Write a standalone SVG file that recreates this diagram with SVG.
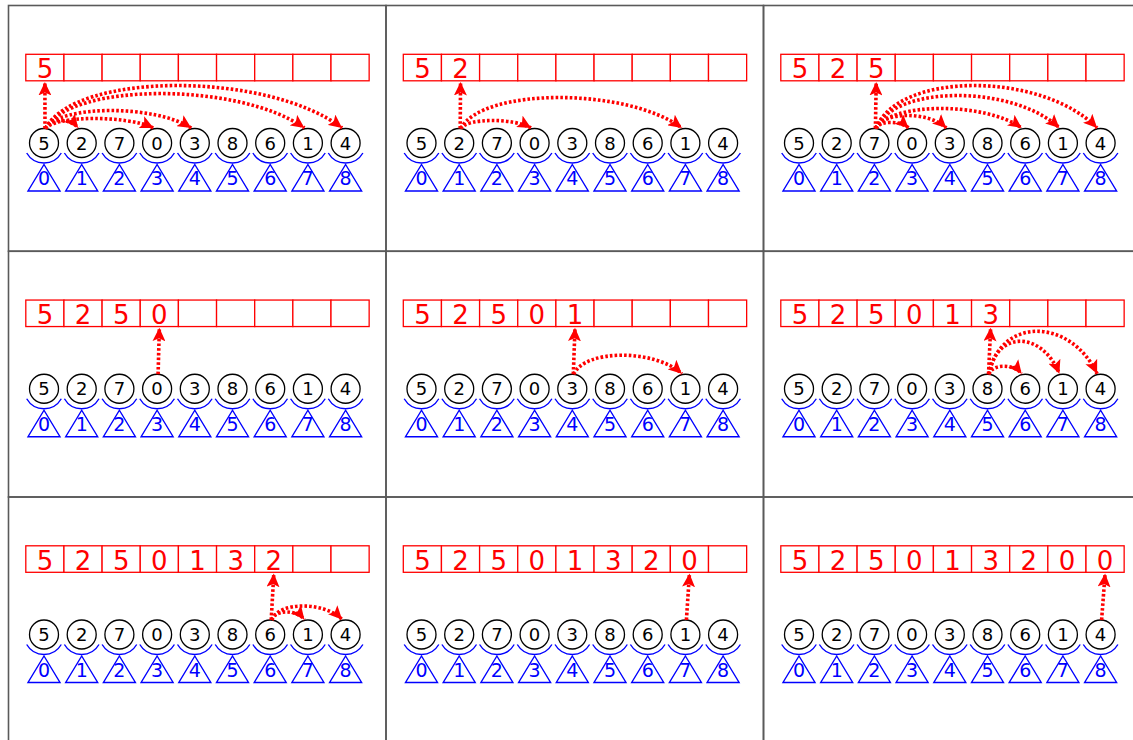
<svg xmlns="http://www.w3.org/2000/svg" xmlns:xlink="http://www.w3.org/1999/xlink" width="1133" height="740" viewBox="0 0 1133 740">
<style>
.frame{fill:none;stroke:#5a5a5a;stroke-width:1.6}
.cell{fill:#fff;stroke:#f00;stroke-width:1.3}
.c{fill:#fff;stroke:#000;stroke-width:1.3}
.b{fill:none;stroke:#00f;stroke-width:1.4}
text{font-family:"DejaVu Sans","Liberation Sans",sans-serif;text-anchor:middle}
.v{font-size:18px;fill:#000}
.i{font-size:19px;fill:#00f}
.o{font-size:26px;fill:#f00}
.e{fill:none;stroke:#f00;stroke-width:3.6;stroke-dasharray:2.6 2.1;marker-end:url(#ah)}
</style>
<defs>
<marker id="ah" markerUnits="userSpaceOnUse" markerWidth="14" markerHeight="13" viewBox="0 0 14 13" refX="13.5" refY="6.5" orient="auto"><path d="M0,0 L13.5,6.5 L0,13 L3,6.5 Z" fill="#f00"/></marker>
<g id="el"><circle class="c" r="14.5"/><path class="b" d="M-17.3,10 A20,20 0 0 0 17.3,10"/><path class="b" d="M0,21.5 L16,48 L-16,48 Z"/></g>
<g id="cells"><rect class="cell" x="17.3" y="48.8" width="38.15" height="26.5"/><rect class="cell" x="55.45" y="48.8" width="38.15" height="26.5"/><rect class="cell" x="93.6" y="48.8" width="38.15" height="26.5"/><rect class="cell" x="131.75" y="48.8" width="38.15" height="26.5"/><rect class="cell" x="169.9" y="48.8" width="38.15" height="26.5"/><rect class="cell" x="208.05" y="48.8" width="38.15" height="26.5"/><rect class="cell" x="246.2" y="48.8" width="38.15" height="26.5"/><rect class="cell" x="284.35" y="48.8" width="38.15" height="26.5"/><rect class="cell" x="322.5" y="48.8" width="38.15" height="26.5"/></g>
</defs>
<rect width="1133" height="740" fill="#fff"/>

<g id="p1" transform="translate(8.5,5.5)">
<rect class="frame" width="377.5" height="245.75"/>
<g id="p1-out"><use href="#cells"/><text class="o" x="36.4" y="72.5">5</text></g>
<g id="p1-n0"><use href="#el" x="35.5" y="137.5"/><text class="v" x="35.5" y="144">5</text><text class="i" x="35.5" y="179.5">0</text></g>
<g id="p1-n1"><use href="#el" x="73.2" y="137.5"/><text class="v" x="73.2" y="144">2</text><text class="i" x="73.2" y="179.5">1</text></g>
<g id="p1-n2"><use href="#el" x="110.9" y="137.5"/><text class="v" x="110.9" y="144">7</text><text class="i" x="110.9" y="179.5">2</text></g>
<g id="p1-n3"><use href="#el" x="148.6" y="137.5"/><text class="v" x="148.6" y="144">0</text><text class="i" x="148.6" y="179.5">3</text></g>
<g id="p1-n4"><use href="#el" x="186.3" y="137.5"/><text class="v" x="186.3" y="144">3</text><text class="i" x="186.3" y="179.5">4</text></g>
<g id="p1-n5"><use href="#el" x="224" y="137.5"/><text class="v" x="224" y="144">8</text><text class="i" x="224" y="179.5">5</text></g>
<g id="p1-n6"><use href="#el" x="261.7" y="137.5"/><text class="v" x="261.7" y="144">6</text><text class="i" x="261.7" y="179.5">6</text></g>
<g id="p1-n7"><use href="#el" x="299.4" y="137.5"/><text class="v" x="299.4" y="144">1</text><text class="i" x="299.4" y="179.5">7</text></g>
<g id="p1-n8"><use href="#el" x="337.1" y="137.5"/><text class="v" x="337.1" y="144">4</text><text class="i" x="337.1" y="179.5">8</text></g>
<g id="p1-edges">
<path class="e" d="M36.5,123 L36.4,76.5"/>
<path class="e" d="M37,123 C40.3,112.4 61.5,112.4 69.7,122.5"/>
<path class="e" d="M37,123 C47.8,109.7 118.1,109.7 145.1,122.5"/>
<path class="e" d="M37,123 C51.6,99.1 146.4,99.1 182.8,122.5"/>
<path class="e" d="M37,123 C62.9,76.5 231.2,76.5 295.9,122.5"/>
<path class="e" d="M37,123 C66.7,65.8 259.5,65.8 333.6,122.5"/>
</g>
</g>

<g id="p2" transform="translate(386,5.5)">
<rect class="frame" width="377.5" height="245.75"/>
<g id="p2-out"><use href="#cells"/><text class="o" x="36.4" y="72.5">5</text><text class="o" x="74.55" y="72.5">2</text></g>
<g id="p2-n0"><use href="#el" x="35.5" y="137.5"/><text class="v" x="35.5" y="144">5</text><text class="i" x="35.5" y="179.5">0</text></g>
<g id="p2-n1"><use href="#el" x="73.2" y="137.5"/><text class="v" x="73.2" y="144">2</text><text class="i" x="73.2" y="179.5">1</text></g>
<g id="p2-n2"><use href="#el" x="110.9" y="137.5"/><text class="v" x="110.9" y="144">7</text><text class="i" x="110.9" y="179.5">2</text></g>
<g id="p2-n3"><use href="#el" x="148.6" y="137.5"/><text class="v" x="148.6" y="144">0</text><text class="i" x="148.6" y="179.5">3</text></g>
<g id="p2-n4"><use href="#el" x="186.3" y="137.5"/><text class="v" x="186.3" y="144">3</text><text class="i" x="186.3" y="179.5">4</text></g>
<g id="p2-n5"><use href="#el" x="224" y="137.5"/><text class="v" x="224" y="144">8</text><text class="i" x="224" y="179.5">5</text></g>
<g id="p2-n6"><use href="#el" x="261.7" y="137.5"/><text class="v" x="261.7" y="144">6</text><text class="i" x="261.7" y="179.5">6</text></g>
<g id="p2-n7"><use href="#el" x="299.4" y="137.5"/><text class="v" x="299.4" y="144">1</text><text class="i" x="299.4" y="179.5">7</text></g>
<g id="p2-n8"><use href="#el" x="337.1" y="137.5"/><text class="v" x="337.1" y="144">4</text><text class="i" x="337.1" y="179.5">8</text></g>
<g id="p2-edges">
<path class="e" d="M74.2,123 L74.55,76.5"/>
<path class="e" d="M74.7,123 C81.7,112.4 127.5,112.4 145.1,122.5"/>
<path class="e" d="M74.7,123 C96.8,81.8 240.6,81.8 295.9,122.5"/>
</g>
</g>

<g id="p3" transform="translate(763.5,5.5)">
<rect class="frame" width="377.5" height="245.75"/>
<g id="p3-out"><use href="#cells"/><text class="o" x="36.4" y="72.5">5</text><text class="o" x="74.55" y="72.5">2</text><text class="o" x="112.7" y="72.5">5</text></g>
<g id="p3-n0"><use href="#el" x="35.5" y="137.5"/><text class="v" x="35.5" y="144">5</text><text class="i" x="35.5" y="179.5">0</text></g>
<g id="p3-n1"><use href="#el" x="73.2" y="137.5"/><text class="v" x="73.2" y="144">2</text><text class="i" x="73.2" y="179.5">1</text></g>
<g id="p3-n2"><use href="#el" x="110.9" y="137.5"/><text class="v" x="110.9" y="144">7</text><text class="i" x="110.9" y="179.5">2</text></g>
<g id="p3-n3"><use href="#el" x="148.6" y="137.5"/><text class="v" x="148.6" y="144">0</text><text class="i" x="148.6" y="179.5">3</text></g>
<g id="p3-n4"><use href="#el" x="186.3" y="137.5"/><text class="v" x="186.3" y="144">3</text><text class="i" x="186.3" y="179.5">4</text></g>
<g id="p3-n5"><use href="#el" x="224" y="137.5"/><text class="v" x="224" y="144">8</text><text class="i" x="224" y="179.5">5</text></g>
<g id="p3-n6"><use href="#el" x="261.7" y="137.5"/><text class="v" x="261.7" y="144">6</text><text class="i" x="261.7" y="179.5">6</text></g>
<g id="p3-n7"><use href="#el" x="299.4" y="137.5"/><text class="v" x="299.4" y="144">1</text><text class="i" x="299.4" y="179.5">7</text></g>
<g id="p3-n8"><use href="#el" x="337.1" y="137.5"/><text class="v" x="337.1" y="144">4</text><text class="i" x="337.1" y="179.5">8</text></g>
<g id="p3-edges">
<path class="e" d="M111.9,123 L112.7,76.5"/>
<path class="e" d="M112.4,123 C115.7,115 136.9,115 145.1,122.5"/>
<path class="e" d="M112.4,123 C119.4,105.7 165.2,105.7 182.8,122.5"/>
<path class="e" d="M112.4,123 C127,96.4 221.8,96.4 258.2,122.5"/>
<path class="e" d="M112.4,123 C130.8,79.1 250,79.1 295.9,122.5"/>
<path class="e" d="M112.4,123 C134.5,65.8 278.3,65.8 333.6,122.5"/>
</g>
</g>

<g id="p4" transform="translate(8.5,251.25)">
<rect class="frame" width="377.5" height="245.75"/>
<g id="p4-out"><use href="#cells"/><text class="o" x="36.4" y="72.5">5</text><text class="o" x="74.55" y="72.5">2</text><text class="o" x="112.7" y="72.5">5</text><text class="o" x="150.85" y="72.5">0</text></g>
<g id="p4-n0"><use href="#el" x="35.5" y="137.5"/><text class="v" x="35.5" y="144">5</text><text class="i" x="35.5" y="179.5">0</text></g>
<g id="p4-n1"><use href="#el" x="73.2" y="137.5"/><text class="v" x="73.2" y="144">2</text><text class="i" x="73.2" y="179.5">1</text></g>
<g id="p4-n2"><use href="#el" x="110.9" y="137.5"/><text class="v" x="110.9" y="144">7</text><text class="i" x="110.9" y="179.5">2</text></g>
<g id="p4-n3"><use href="#el" x="148.6" y="137.5"/><text class="v" x="148.6" y="144">0</text><text class="i" x="148.6" y="179.5">3</text></g>
<g id="p4-n4"><use href="#el" x="186.3" y="137.5"/><text class="v" x="186.3" y="144">3</text><text class="i" x="186.3" y="179.5">4</text></g>
<g id="p4-n5"><use href="#el" x="224" y="137.5"/><text class="v" x="224" y="144">8</text><text class="i" x="224" y="179.5">5</text></g>
<g id="p4-n6"><use href="#el" x="261.7" y="137.5"/><text class="v" x="261.7" y="144">6</text><text class="i" x="261.7" y="179.5">6</text></g>
<g id="p4-n7"><use href="#el" x="299.4" y="137.5"/><text class="v" x="299.4" y="144">1</text><text class="i" x="299.4" y="179.5">7</text></g>
<g id="p4-n8"><use href="#el" x="337.1" y="137.5"/><text class="v" x="337.1" y="144">4</text><text class="i" x="337.1" y="179.5">8</text></g>
<g id="p4-edges">
<path class="e" d="M149.6,123 L150.85,76.5"/>
</g>
</g>

<g id="p5" transform="translate(386,251.25)">
<rect class="frame" width="377.5" height="245.75"/>
<g id="p5-out"><use href="#cells"/><text class="o" x="36.4" y="72.5">5</text><text class="o" x="74.55" y="72.5">2</text><text class="o" x="112.7" y="72.5">5</text><text class="o" x="150.85" y="72.5">0</text><text class="o" x="189" y="72.5">1</text></g>
<g id="p5-n0"><use href="#el" x="35.5" y="137.5"/><text class="v" x="35.5" y="144">5</text><text class="i" x="35.5" y="179.5">0</text></g>
<g id="p5-n1"><use href="#el" x="73.2" y="137.5"/><text class="v" x="73.2" y="144">2</text><text class="i" x="73.2" y="179.5">1</text></g>
<g id="p5-n2"><use href="#el" x="110.9" y="137.5"/><text class="v" x="110.9" y="144">7</text><text class="i" x="110.9" y="179.5">2</text></g>
<g id="p5-n3"><use href="#el" x="148.6" y="137.5"/><text class="v" x="148.6" y="144">0</text><text class="i" x="148.6" y="179.5">3</text></g>
<g id="p5-n4"><use href="#el" x="186.3" y="137.5"/><text class="v" x="186.3" y="144">3</text><text class="i" x="186.3" y="179.5">4</text></g>
<g id="p5-n5"><use href="#el" x="224" y="137.5"/><text class="v" x="224" y="144">8</text><text class="i" x="224" y="179.5">5</text></g>
<g id="p5-n6"><use href="#el" x="261.7" y="137.5"/><text class="v" x="261.7" y="144">6</text><text class="i" x="261.7" y="179.5">6</text></g>
<g id="p5-n7"><use href="#el" x="299.4" y="137.5"/><text class="v" x="299.4" y="144">1</text><text class="i" x="299.4" y="179.5">7</text></g>
<g id="p5-n8"><use href="#el" x="337.1" y="137.5"/><text class="v" x="337.1" y="144">4</text><text class="i" x="337.1" y="179.5">8</text></g>
<g id="p5-edges">
<path class="e" d="M187.3,123 L189,76.5"/>
<path class="e" d="M187.8,123 C198.6,97.7 268.9,97.7 295.9,122.5"/>
</g>
</g>

<g id="p6" transform="translate(763.5,251.25)">
<rect class="frame" width="377.5" height="245.75"/>
<g id="p6-out"><use href="#cells"/><text class="o" x="36.4" y="72.5">5</text><text class="o" x="74.55" y="72.5">2</text><text class="o" x="112.7" y="72.5">5</text><text class="o" x="150.85" y="72.5">0</text><text class="o" x="189" y="72.5">1</text><text class="o" x="227.15" y="72.5">3</text></g>
<g id="p6-n0"><use href="#el" x="35.5" y="137.5"/><text class="v" x="35.5" y="144">5</text><text class="i" x="35.5" y="179.5">0</text></g>
<g id="p6-n1"><use href="#el" x="73.2" y="137.5"/><text class="v" x="73.2" y="144">2</text><text class="i" x="73.2" y="179.5">1</text></g>
<g id="p6-n2"><use href="#el" x="110.9" y="137.5"/><text class="v" x="110.9" y="144">7</text><text class="i" x="110.9" y="179.5">2</text></g>
<g id="p6-n3"><use href="#el" x="148.6" y="137.5"/><text class="v" x="148.6" y="144">0</text><text class="i" x="148.6" y="179.5">3</text></g>
<g id="p6-n4"><use href="#el" x="186.3" y="137.5"/><text class="v" x="186.3" y="144">3</text><text class="i" x="186.3" y="179.5">4</text></g>
<g id="p6-n5"><use href="#el" x="224" y="137.5"/><text class="v" x="224" y="144">8</text><text class="i" x="224" y="179.5">5</text></g>
<g id="p6-n6"><use href="#el" x="261.7" y="137.5"/><text class="v" x="261.7" y="144">6</text><text class="i" x="261.7" y="179.5">6</text></g>
<g id="p6-n7"><use href="#el" x="299.4" y="137.5"/><text class="v" x="299.4" y="144">1</text><text class="i" x="299.4" y="179.5">7</text></g>
<g id="p6-n8"><use href="#el" x="337.1" y="137.5"/><text class="v" x="337.1" y="144">4</text><text class="i" x="337.1" y="179.5">8</text></g>
<g id="p6-edges">
<path class="e" d="M225,123 L227.15,76.5"/>
<path class="e" d="M225.5,123 C228.8,112.4 250,112.4 258.2,122.5"/>
<path class="e" d="M225.5,123 C232.5,79.1 278.3,79.1 295.9,122.5"/>
<path class="e" d="M225.5,123 C236.3,65.8 306.6,65.8 333.6,122.5"/>
</g>
</g>

<g id="p7" transform="translate(8.5,497)">
<rect class="frame" width="377.5" height="245.75"/>
<g id="p7-out"><use href="#cells"/><text class="o" x="36.4" y="72.5">5</text><text class="o" x="74.55" y="72.5">2</text><text class="o" x="112.7" y="72.5">5</text><text class="o" x="150.85" y="72.5">0</text><text class="o" x="189" y="72.5">1</text><text class="o" x="227.15" y="72.5">3</text><text class="o" x="265.3" y="72.5">2</text></g>
<g id="p7-n0"><use href="#el" x="35.5" y="137.5"/><text class="v" x="35.5" y="144">5</text><text class="i" x="35.5" y="179.5">0</text></g>
<g id="p7-n1"><use href="#el" x="73.2" y="137.5"/><text class="v" x="73.2" y="144">2</text><text class="i" x="73.2" y="179.5">1</text></g>
<g id="p7-n2"><use href="#el" x="110.9" y="137.5"/><text class="v" x="110.9" y="144">7</text><text class="i" x="110.9" y="179.5">2</text></g>
<g id="p7-n3"><use href="#el" x="148.6" y="137.5"/><text class="v" x="148.6" y="144">0</text><text class="i" x="148.6" y="179.5">3</text></g>
<g id="p7-n4"><use href="#el" x="186.3" y="137.5"/><text class="v" x="186.3" y="144">3</text><text class="i" x="186.3" y="179.5">4</text></g>
<g id="p7-n5"><use href="#el" x="224" y="137.5"/><text class="v" x="224" y="144">8</text><text class="i" x="224" y="179.5">5</text></g>
<g id="p7-n6"><use href="#el" x="261.7" y="137.5"/><text class="v" x="261.7" y="144">6</text><text class="i" x="261.7" y="179.5">6</text></g>
<g id="p7-n7"><use href="#el" x="299.4" y="137.5"/><text class="v" x="299.4" y="144">1</text><text class="i" x="299.4" y="179.5">7</text></g>
<g id="p7-n8"><use href="#el" x="337.1" y="137.5"/><text class="v" x="337.1" y="144">4</text><text class="i" x="337.1" y="179.5">8</text></g>
<g id="p7-edges">
<path class="e" d="M262.7,123 L265.3,76.5"/>
<path class="e" d="M263.2,123 C266.5,112.4 287.7,112.4 295.9,122.5"/>
<path class="e" d="M263.2,123 C270.2,104.4 316,104.4 333.6,122.5"/>
</g>
</g>

<g id="p8" transform="translate(386,497)">
<rect class="frame" width="377.5" height="245.75"/>
<g id="p8-out"><use href="#cells"/><text class="o" x="36.4" y="72.5">5</text><text class="o" x="74.55" y="72.5">2</text><text class="o" x="112.7" y="72.5">5</text><text class="o" x="150.85" y="72.5">0</text><text class="o" x="189" y="72.5">1</text><text class="o" x="227.15" y="72.5">3</text><text class="o" x="265.3" y="72.5">2</text><text class="o" x="303.45" y="72.5">0</text></g>
<g id="p8-n0"><use href="#el" x="35.5" y="137.5"/><text class="v" x="35.5" y="144">5</text><text class="i" x="35.5" y="179.5">0</text></g>
<g id="p8-n1"><use href="#el" x="73.2" y="137.5"/><text class="v" x="73.2" y="144">2</text><text class="i" x="73.2" y="179.5">1</text></g>
<g id="p8-n2"><use href="#el" x="110.9" y="137.5"/><text class="v" x="110.9" y="144">7</text><text class="i" x="110.9" y="179.5">2</text></g>
<g id="p8-n3"><use href="#el" x="148.6" y="137.5"/><text class="v" x="148.6" y="144">0</text><text class="i" x="148.6" y="179.5">3</text></g>
<g id="p8-n4"><use href="#el" x="186.3" y="137.5"/><text class="v" x="186.3" y="144">3</text><text class="i" x="186.3" y="179.5">4</text></g>
<g id="p8-n5"><use href="#el" x="224" y="137.5"/><text class="v" x="224" y="144">8</text><text class="i" x="224" y="179.5">5</text></g>
<g id="p8-n6"><use href="#el" x="261.7" y="137.5"/><text class="v" x="261.7" y="144">6</text><text class="i" x="261.7" y="179.5">6</text></g>
<g id="p8-n7"><use href="#el" x="299.4" y="137.5"/><text class="v" x="299.4" y="144">1</text><text class="i" x="299.4" y="179.5">7</text></g>
<g id="p8-n8"><use href="#el" x="337.1" y="137.5"/><text class="v" x="337.1" y="144">4</text><text class="i" x="337.1" y="179.5">8</text></g>
<g id="p8-edges">
<path class="e" d="M300.4,123 L303.45,76.5"/>
</g>
</g>

<g id="p9" transform="translate(763.5,497)">
<rect class="frame" width="377.5" height="245.75"/>
<g id="p9-out"><use href="#cells"/><text class="o" x="36.4" y="72.5">5</text><text class="o" x="74.55" y="72.5">2</text><text class="o" x="112.7" y="72.5">5</text><text class="o" x="150.85" y="72.5">0</text><text class="o" x="189" y="72.5">1</text><text class="o" x="227.15" y="72.5">3</text><text class="o" x="265.3" y="72.5">2</text><text class="o" x="303.45" y="72.5">0</text><text class="o" x="341.6" y="72.5">0</text></g>
<g id="p9-n0"><use href="#el" x="35.5" y="137.5"/><text class="v" x="35.5" y="144">5</text><text class="i" x="35.5" y="179.5">0</text></g>
<g id="p9-n1"><use href="#el" x="73.2" y="137.5"/><text class="v" x="73.2" y="144">2</text><text class="i" x="73.2" y="179.5">1</text></g>
<g id="p9-n2"><use href="#el" x="110.9" y="137.5"/><text class="v" x="110.9" y="144">7</text><text class="i" x="110.9" y="179.5">2</text></g>
<g id="p9-n3"><use href="#el" x="148.6" y="137.5"/><text class="v" x="148.6" y="144">0</text><text class="i" x="148.6" y="179.5">3</text></g>
<g id="p9-n4"><use href="#el" x="186.3" y="137.5"/><text class="v" x="186.3" y="144">3</text><text class="i" x="186.3" y="179.5">4</text></g>
<g id="p9-n5"><use href="#el" x="224" y="137.5"/><text class="v" x="224" y="144">8</text><text class="i" x="224" y="179.5">5</text></g>
<g id="p9-n6"><use href="#el" x="261.7" y="137.5"/><text class="v" x="261.7" y="144">6</text><text class="i" x="261.7" y="179.5">6</text></g>
<g id="p9-n7"><use href="#el" x="299.4" y="137.5"/><text class="v" x="299.4" y="144">1</text><text class="i" x="299.4" y="179.5">7</text></g>
<g id="p9-n8"><use href="#el" x="337.1" y="137.5"/><text class="v" x="337.1" y="144">4</text><text class="i" x="337.1" y="179.5">8</text></g>
<g id="p9-edges">
<path class="e" d="M338.1,123 L341.6,76.5"/>
</g>
</g>
</svg>
